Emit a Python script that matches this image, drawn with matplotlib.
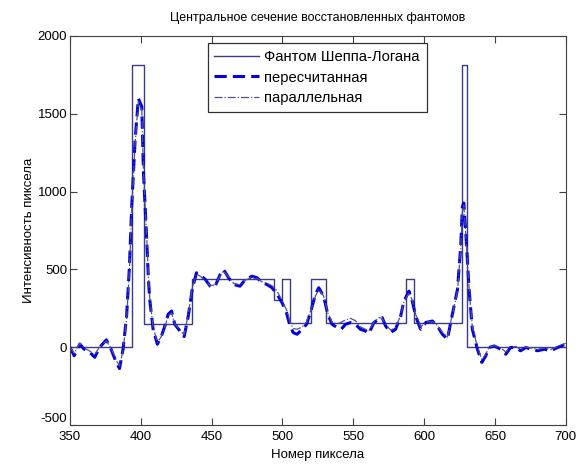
import numpy as np
import matplotlib
matplotlib.use('Agg')
import matplotlib.pyplot as plt

plt.rcParams['font.family'] = ['Liberation Sans', 'DejaVu Sans']
plt.rcParams['axes.unicode_minus'] = False

# Shepp-Logan phantom, central row (step edges and levels)
phantom_x = [350, 394, 402, 436, 494, 500, 505, 520, 531, 587, 593, 627, 630, 700]
phantom_y = [0, 1810, 150, 440, 300, 440, 155, 440, 155, 440, 155, 1810, 0, 0]

# reconstructed rows
recon_x = [350, 353, 357, 360, 364, 367.5, 371, 375.7, 379, 382.7,
           385, 387.5, 390, 392, 393.6, 396, 398.3, 400.7, 401.9, 404.2,
           405.4, 406.3, 408.7, 411.7, 414.6, 417, 419.3, 421.7, 424, 427.6,
           430.6, 433.5, 436.3, 439.3, 442.9, 445.5, 449, 452.5, 456, 458.4,
           462, 465.5, 470, 473.8, 478.5, 482, 485.6, 489, 492.6, 496.2,
           499.7, 502.8, 505, 507.5, 510.3, 513.9, 517, 519.7, 523.3, 525.6,
           529, 532, 535, 538.6, 541.4, 544.5, 548, 551.5, 555, 558.6,
           561, 564.5, 568, 570.4, 572.8, 576.3, 579.8, 583.4, 585.7, 589.3,
           591.6, 594, 597.5, 601, 605.8, 609.3, 612.9, 616.4, 618.7, 623.5,
           625.8, 627, 628, 629.8, 631.7, 634, 637.6, 640.7, 643.5, 645.8,
           649.4, 654, 657.6, 661, 664.7, 668, 671.8, 675.3, 680, 684.7,
           689.4, 694.2, 700]

rebinned_y = [0, -55, 20, -13, -33, -65, 0, 47, -13, -98,
              -137, -13, 200, 520, 905, 1331, 1598, 1545, 1118, 691,
              435, 307, 115, 19, 72, 136, 211, 232, 147, 104,
              68, 200, 371, 478, 456, 435, 392, 392, 467, 499,
              446, 403, 392, 435, 456, 446, 414, 403, 382, 339,
              286, 222, 147, 94, 83, 115, 147, 222, 339, 382,
              328, 211, 147, 126, 115, 147, 158, 147, 115, 104,
              88, 158, 179, 190, 136, 94, 115, 200, 296, 360,
              296, 200, 115, 158, 168, 136, 83, 51, 158, 371,
              648, 905, 926, 670, 371, 115, -13, -98, -55, -2,
              8, -13, -45, -2, -2, -23, -2, -13, -23, -13,
              -23, -2, 20]

parallel_y = [0, -40, 25, -5, -25, -50, 5, 40, -5, -85,
              -120, -20, 180, 500, 890, 1310, 1580, 1530, 1130, 700,
              450, 320, 130, 30, 70, 130, 200, 220, 150, 110,
              80, 210, 380, 470, 450, 430, 395, 400, 460, 490,
              450, 410, 400, 430, 450, 440, 420, 410, 395, 360,
              300, 240, 170, 120, 115, 130, 160, 230, 330, 370,
              330, 220, 160, 150, 160, 175, 185, 170, 130, 115,
              105, 160, 190, 185, 145, 110, 125, 205, 290, 350,
              300, 210, 130, 160, 165, 140, 95, 65, 160, 360,
              630, 880, 910, 660, 380, 130, 0, -80, -45, 0,
              10, -5, -30, 0, 5, -15, 0, -5, -15, -5,
              -15, 5, 25]

fig = plt.figure(figsize=(5.78, 4.66), dpi=100, facecolor='white')
ax = fig.add_axes([0.121, 0.088, 0.858, 0.835])

ax.plot(phantom_x, phantom_y, drawstyle='steps-post', color='#3c3c88', lw=1.0,
        label='Фантом Шеппа-Логана')
ax.plot(recon_x, rebinned_y, '--', color='#0000e0', lw=2.2, dashes=(4, 2),
        label='пересчитанная')
ax.plot(recon_x, parallel_y, '-.', color='#50508c', lw=0.9,
        label='параллельная')

ax.set_xlim(350, 700)
ax.set_ylim(-500, 2000)
ax.set_xticks(np.arange(350, 701, 50))
ax.set_yticks(np.arange(-500, 2001, 500))
ax.tick_params(direction='in', top=True, right=True, length=5, labelsize=9.5,
               color='#404040', pad=2)
ax.tick_params(axis='x', pad=4)
# matlab puts the lowest y label a little above the corner
ax.get_yticklabels()[0].set_verticalalignment('bottom')
for s in ax.spines.values():
    s.set_color('#404040')

ax.set_title('Центральное сечение восстановленных фантомов', fontsize=9, pad=11)
ax.set_xlabel('Номер пиксела', fontsize=9.5, labelpad=5)
ax.set_ylabel('Интенсивность пиксела', fontsize=9.5, labelpad=2)

leg = ax.legend(loc='upper left', bbox_to_anchor=(0.278, 0.981), fontsize=10.6,
                fancybox=False, framealpha=1, edgecolor='#303030',
                handlelength=3.0, handletextpad=0.4, borderpad=0.45,
                labelspacing=0.45, borderaxespad=0)
leg.get_frame().set_linewidth(0.9)

plt.savefig('out.png', dpi=100)
